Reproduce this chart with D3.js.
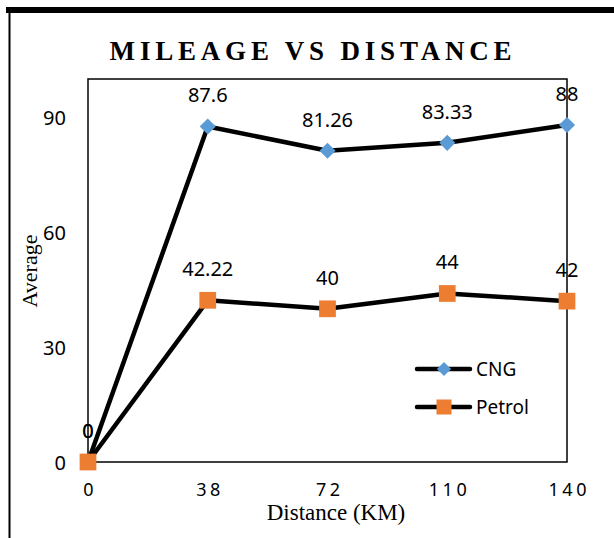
<!DOCTYPE html>
<html>
<head>
<meta charset="utf-8">
<script src="https://cdn.jsdelivr.net/npm/d3@7"></script>
<style>
  body { margin: 0; background: #fff; }
  svg { display: block; }
</style>
</head>
<body>
<script>
// chart data
var distances = ["0", "38", "72", "110", "140"];
var cng = [0, 87.6, 81.26, 83.33, 88];
var petrol = [0, 42.22, 40, 44, 42];
var cngLabels = ["0", "87.6", "81.26", "83.33", "88"];
var petrolLabels = ["0", "42.22", "40", "44", "42"];
var yTicks = [0, 30, 60, 90];

var W = 614, H = 538;
var plot = { left: 88, right: 567, top: 79, bottom: 462 };

var svg = d3.select("body").append("svg")
    .attr("width", W)
    .attr("height", H);

// outer frame pieces (top thick bar, left rule)
svg.append("rect")
    .attr("x", 6).attr("y", 7)
    .attr("width", W - 6).attr("height", 6)
    .attr("fill", "#000");
svg.append("line")
    .attr("x1", 9.5).attr("x2", 9.5)
    .attr("y1", 13).attr("y2", H)
    .attr("stroke", "#000").attr("stroke-width", 2);

var x = d3.scalePoint()
    .domain(distances)
    .range([plot.left, plot.right])
    .padding(0);

var y = d3.scaleLinear()
    .domain([0, 100])
    .range([plot.bottom, plot.top]);

// plot frame
svg.append("rect")
    .attr("x", plot.left).attr("y", plot.top)
    .attr("width", plot.right - plot.left)
    .attr("height", plot.bottom - plot.top)
    .attr("fill", "none")
    .attr("stroke", "#000")
    .attr("stroke-width", 1.5);

// title
svg.append("text")
    .attr("x", 313).attr("y", 60)
    .attr("text-anchor", "middle")
    .style("font-family", "'Liberation Serif', 'Times New Roman', serif")
    .style("font-weight", "bold")
    .style("font-size", "27px")
    .style("letter-spacing", "4.8px")
    .text("MILEAGE VS DISTANCE");

// y axis (labels only)
var yAxis = d3.axisLeft(y).tickValues(yTicks).tickSize(0).tickPadding(0);
var yg = svg.append("g")
    .attr("transform", "translate(66,0)")
    .call(yAxis);
yg.select(".domain").remove();
yg.selectAll("text")
    .attr("dy", "0.36em")
    .style("font-family", "'Noto Sans', sans-serif")
    .style("font-size", "20px")
    .attr("fill", "#000");

// x axis (labels only)
var xAxis = d3.axisBottom(x).tickSize(0).tickPadding(0);
var xg = svg.append("g")
    .attr("transform", "translate(0,496)")
    .call(xAxis);
xg.select(".domain").remove();
xg.selectAll("text")
    .attr("dy", 0)
    .attr("dx", "1.75px")
    .style("font-family", "'Noto Sans', sans-serif")
    .style("font-size", "18px")
    .style("letter-spacing", "3.5px")
    .attr("fill", "#000");

// axis titles
svg.append("text")
    .attr("transform", "translate(37,271) rotate(-90)")
    .attr("text-anchor", "middle")
    .style("font-family", "'Liberation Serif', 'Times New Roman', serif")
    .style("font-size", "22px")
    .text("Average");

svg.append("text")
    .attr("x", 336).attr("y", 520)
    .attr("text-anchor", "middle")
    .style("font-family", "'Liberation Serif', 'Times New Roman', serif")
    .style("font-size", "23px")
    .text("Distance (KM)");

var line = d3.line()
    .x(function (d, i) { return x(distances[i]); })
    .y(function (d) { return y(d); });

function drawSeries(vals, labels, shape, color, size) {
    svg.append("path")
        .datum(vals)
        .attr("d", line)
        .attr("fill", "none")
        .attr("stroke", "#000")
        .attr("stroke-width", 4.5)
        .attr("stroke-linejoin", "round");

    svg.selectAll(null).data(vals).enter().append("path")
        .attr("transform", function (d, i) {
            return "translate(" + x(distances[i]) + "," + y(d) + ")" + (shape === "diamond" ? " rotate(45)" : "");
        })
        .attr("d", d3.symbol().type(d3.symbolSquare).size(size))
        .attr("fill", color);

    svg.selectAll(null).data(vals).enter().append("text")
        .attr("x", function (d, i) { return x(distances[i]); })
        .attr("y", function (d) { return y(d) - 24; })
        .attr("text-anchor", "middle")
        .style("font-family", "'Noto Sans', sans-serif")
        .style("font-size", "20px")
        .text(function (d, i) { return labels[i]; });
}

drawSeries(cng, cngLabels, "diamond", "#5B9BD5", 130);
drawSeries(petrol, petrolLabels, "square", "#ED7D31", 280);

// legend
var legend = [
    { name: "CNG", shape: "diamond", color: "#5B9BD5", size: 100, y: 369 },
    { name: "Petrol", shape: "square", color: "#ED7D31", size: 225, y: 407 }
];
var lg = svg.selectAll(".leg").data(legend).enter().append("g")
    .attr("class", "leg")
    .attr("transform", function (d) { return "translate(0," + d.y + ")"; });
lg.append("line")
    .attr("x1", 417).attr("x2", 470)
    .attr("stroke", "#000").attr("stroke-width", 4.5)
    .attr("stroke-linecap", "round");
lg.append("path")
    .attr("transform", function (d) { return "translate(444,0)" + (d.shape === "diamond" ? " rotate(45)" : ""); })
    .attr("d", function (d) { return d3.symbol().type(d3.symbolSquare).size(d.size)(); })
    .attr("fill", function (d) { return d.color; });
lg.append("text")
    .attr("x", 476).attr("y", 7)
    .style("font-family", "'Noto Sans', sans-serif")
    .style("font-size", "19px")
    .text(function (d) { return d.name; });
</script>
</body>
</html>
